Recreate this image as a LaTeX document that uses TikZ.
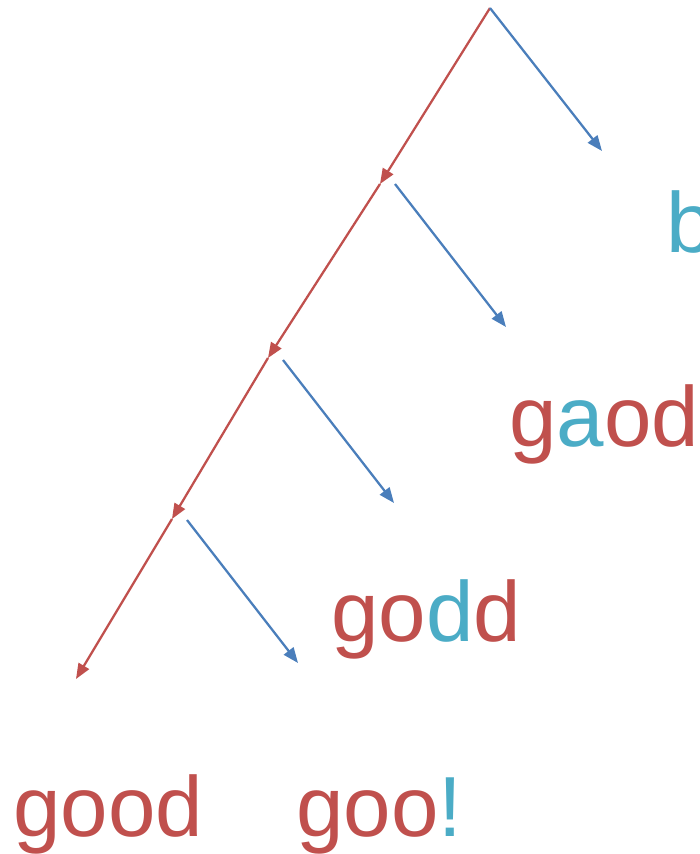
\documentclass[tikz,border=0pt]{standalone}
\usepackage{fontspec}
\setmainfont{Liberation Sans}
\usetikzlibrary{arrows.meta}
\definecolor{brick}{HTML}{C0504D}
\definecolor{steel}{HTML}{4A7EBB}
\definecolor{teal}{HTML}{4BACC6}
\tikzset{
  edge/.style={-{Triangle[length=11.5pt,width=9pt]}, line width=1.7pt, color=#1},
  edge/.default=brick,
  word/.style={anchor=base west, inner sep=0pt, text=brick,
    font=\fontsize{64}{64}\selectfont},
}
\newcommand{\hi}[1]{\textcolor{teal}{#1}}

\begin{document}
\begin{tikzpicture}[x=0.75pt,y=-0.75pt]
  \useasboundingbox (0,0) rectangle (700,854);
  % spine of the tree
  \coordinate (r0) at (490,8);
  \coordinate (r1) at (380,184);
  \coordinate (r2) at (268,358);
  \coordinate (r3) at (172,519);
  \coordinate (r4) at (76,679);
  % blue branch ends
  \coordinate (s1) at (395,184);
  \coordinate (s2) at (283,360);
  \coordinate (s3) at (187,520);
  \coordinate (e0) at (602,151);
  \coordinate (e1) at (506,327);
  \coordinate (e2) at (394,503);
  \coordinate (e3) at (298,663);
  \draw[edge] (r0) -- (r1);
  \draw[edge] (r1) -- (r2);
  \draw[edge] (r2) -- (r3);
  \draw[edge] (r3) -- (r4);
  \draw[edge=steel] (r0) -- (e0);
  \draw[edge=steel] (s1) -- (e1);
  \draw[edge=steel] (s2) -- (e2);
  \draw[edge=steel] (s3) -- (e3);
  % words
  \node[word] (wb) at (666,252) {\hi{b}};
  \node[word] (wgaod) at (509,446) {g\hi{a}od};
  \node[word] (wgodd) at (331,641) {go\hi{d}d};
  \node[word] (wgood) at (13,836) {good};
  \node[word] (wgoo) at (296,836) {goo\hi{!}};
\end{tikzpicture}
\end{document}
